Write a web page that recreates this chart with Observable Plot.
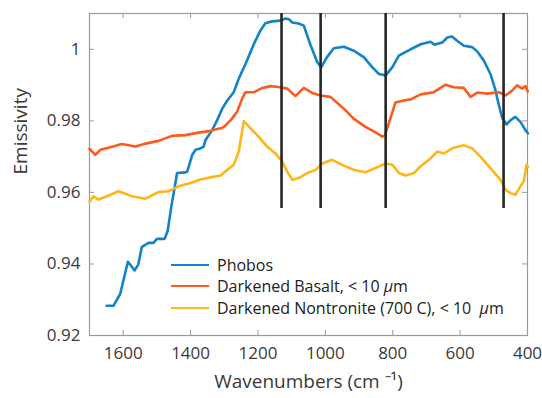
<!DOCTYPE html>
<html>
<head>
<meta charset="utf-8">
<script src="https://cdn.jsdelivr.net/npm/d3@7"></script>
<script src="https://cdn.jsdelivr.net/npm/@observablehq/plot@0.6"></script>
<style>
  html, body { margin: 0; padding: 0; background: #fff; }
  #wrap { position: relative; width: 542px; height: 398px; font-family: "Open Sans", sans-serif; }
  #legend { position: absolute; left: 171px; top: 254px; font-size: 16px; color: #222; }
  #legend .row { display: flex; align-items: center; height: 21.5px; white-space: pre; }
  #legend .sw { width: 38px; height: 0; border-top: 2.5px solid; margin-right: 8px; }
</style>
</head>
<body>
<div id="wrap"><div id="legend"></div></div>
<script>
// ---- data (wavenumber, emissivity) ----
const seriesNames = ["Phobos", "Darkened Basalt, < 10 μm", "Darkened Nontronite (700 C), < 10  μm"];
const seriesColors = ["#1283c6", "#ff5a1e", "#ffb515"];

const phobosWn = [1649,1629,1609,1586,1566,1555,1545,1525,1510,1500,1477,1468,1457,1440,1415,1410,1395,1385,1371,1361,1356,1336,1321,1306,1291,1272,1257,1237,1212,1193,1178,1158,1133,1118,1108,1098,1079,1064,1044,1024,1012,995,975,945,916,886,861,841,821,801,782,747,717,688,676,653,638,624,609,589,564,549,530,510,495,485,475,462,450,436,421,406,399];
const phobosEm = [0.9283,0.9283,0.9316,0.9406,0.9382,0.9399,0.9447,0.9459,0.9459,0.9470,0.9470,0.9492,0.9561,0.9654,0.9656,0.9658,0.9705,0.9719,0.9723,0.9728,0.9746,0.9774,0.9802,0.9834,0.9857,0.9880,0.9918,0.9959,1.0015,1.0052,1.0073,1.0078,1.0080,1.0086,1.0084,1.0075,1.0072,1.0066,1.0012,0.9964,0.9950,0.9978,1.0003,1.0007,0.9996,0.9978,0.9950,0.9931,0.9927,0.9950,0.9982,1.0000,1.0014,1.0021,1.0013,1.0019,1.0033,1.0036,1.0024,1.0010,1.0006,0.9994,0.9969,0.9931,0.9885,0.9844,0.9808,0.9790,0.9802,0.9811,0.9797,0.9774,0.9765];

const basaltWn = [1700,1690,1683,1668,1644,1604,1564,1530,1495,1456,1416,1376,1341,1311,1301,1281,1262,1247,1237,1212,1187,1163,1133,1113,1089,1064,1039,1014,985,945,916,881,851,831,823,792,767,747,717,678,643,619,589,569,549,520,485,465,445,431,416,406,399];
const basaltEm = [0.9722,0.9712,0.9705,0.9719,0.9725,0.9735,0.9728,0.9737,0.9744,0.9758,0.9760,0.9767,0.9772,0.9779,0.9783,0.9802,0.9825,0.9862,0.9880,0.9880,0.9892,0.9897,0.9894,0.9890,0.9869,0.9892,0.9878,0.9871,0.9867,0.9834,0.9806,0.9783,0.9768,0.9756,0.9760,0.9851,0.9857,0.9860,0.9874,0.9880,0.9901,0.9894,0.9892,0.9867,0.9879,0.9876,0.9880,0.9871,0.9885,0.9899,0.9890,0.9897,0.9882];

const nontWn = [1700,1688,1673,1649,1614,1574,1535,1495,1466,1436,1400,1371,1341,1311,1291,1272,1257,1242,1222,1198,1173,1148,1128,1113,1098,1079,1054,1029,1009,980,950,916,881,851,821,801,782,762,737,717,688,668,648,619,589,564,540,510,480,465,450,436,421,411,403,399];
const nontEm = [0.9575,0.9589,0.9580,0.9589,0.9603,0.9589,0.9582,0.9601,0.9603,0.9617,0.9626,0.9636,0.9642,0.9647,0.9663,0.9677,0.9714,0.9799,0.9779,0.9756,0.9728,0.9709,0.9686,0.9658,0.9635,0.9640,0.9654,0.9663,0.9681,0.9691,0.9677,0.9663,0.9656,0.9668,0.9681,0.9677,0.9654,0.9647,0.9654,0.9673,0.9695,0.9714,0.9709,0.9725,0.9732,0.9723,0.9700,0.9668,0.9635,0.9607,0.9598,0.9593,0.9617,0.9631,0.9677,0.9672];

const bandWn = [1130, 1014, 821, 471];
const bandLow = 0.9555;
const bandHigh = 1.01;

const xTicks = [1600, 1400, 1200, 1000, 800, 600, 400];
const yTicks = [0.92, 0.94, 0.96, 0.98, 1];
const xDomain = [1700, 400];
const yDomain = [0.92, 1.01];

// ---- build table ----
const rows = [];
[[phobosWn, phobosEm], [basaltWn, basaltEm], [nontWn, nontEm]].forEach(([w, e], i) => {
  w.forEach((wn, j) => rows.push({series: seriesNames[i], wn, em: e[j]}));
});

const W = 542, H = 398;
const mL = 89, mR = 15, mT = 13, mB = 63;
const innerW = W - mL - mR, innerH = H - mT - mB;
const tickLen = 5;
const frameColor = "#9a9a9a";
const textColor = "#3a3a3a";

const chart = Plot.plot({
  width: W, height: H,
  marginLeft: mL, marginRight: mR, marginTop: mT, marginBottom: mB,
  style: {fontFamily: "'Open Sans', sans-serif", fontSize: "17px", color: textColor, background: "white"},
  x: {domain: xDomain, ticks: xTicks},
  y: {domain: yDomain, ticks: yTicks},
  color: {domain: seriesNames, range: seriesColors},
  marks: [
    Plot.frame({stroke: frameColor, strokeWidth: 1.2}),
    Plot.ruleX(xTicks, {insetTop: innerH - tickLen, stroke: frameColor}),
    Plot.ruleX(xTicks, {insetBottom: innerH - tickLen, stroke: frameColor}),
    Plot.ruleY(yTicks, {insetRight: innerW - tickLen, stroke: frameColor}),
    Plot.ruleY(yTicks, {insetLeft: innerW - tickLen, stroke: frameColor}),
    Plot.axisX(xTicks, {tickSize: 0, tickPadding: 11, label: null, fontSize: 17, tickFormat: d => String(d)}),
    Plot.axisY(yTicks, {tickSize: 0, tickPadding: 9, label: null, fontSize: 17, tickFormat: d => String(d)}),
    Plot.line(rows, {x: "wn", y: "em", z: "series", stroke: "series", strokeWidth: 2.6, strokeLinejoin: "round"}),
    Plot.ruleX(bandWn, {y1: bandLow, y2: bandHigh, stroke: "#262626", strokeWidth: 2.6}),
    Plot.text(["Wavenumbers (cm ⁻¹)"], {frameAnchor: "bottom", dy: 52, fontSize: 19, fill: textColor}),
    Plot.text(["Emissivity"], {frameAnchor: "left", dx: -69, rotate: -90, fontSize: 19, fill: textColor})
  ]
});

const wrap = document.getElementById("wrap");
wrap.insertBefore(chart, wrap.firstChild);

const legend = document.getElementById("legend");
seriesNames.forEach((name, i) => {
  const row = document.createElement("div");
  row.className = "row";
  const sw = document.createElement("div");
  sw.className = "sw";
  sw.style.borderTopColor = seriesColors[i];
  const label = document.createElement("span");
  const m = name.match(/^(.*?)(μ)(m)$/);
  if (m) {
    label.append(m[1]);
    const it = document.createElement("i");
    it.textContent = m[2];
    label.append(it, m[3]);
  } else {
    label.textContent = name;
  }
  row.append(sw, label);
  legend.append(row);
});
</script>
</body>
</html>
